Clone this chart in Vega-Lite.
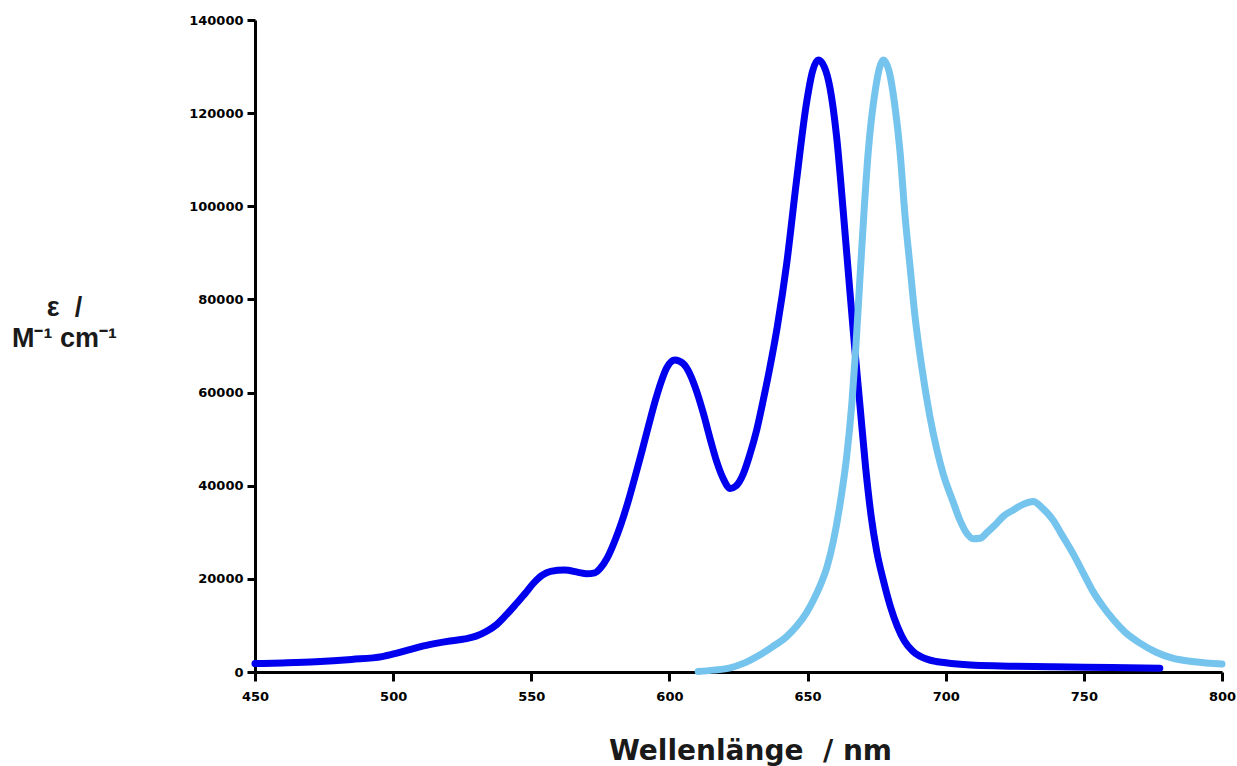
{
  "$schema": "https://vega.github.io/schema/vega-lite/v6.json",
  "autosize": "none",
  "width": 967,
  "height": 652,
  "padding": {"left": 255, "top": 20, "right": 15, "bottom": 94},
  "background": "white",
  "config": {"view": {"stroke": null}, "font": "Liberation Sans"},
  "data": {"values": [
    {"nm": 450, "eps": 1800, "s": "Absorption"},
    {"nm": 460, "eps": 1950, "s": "Absorption"},
    {"nm": 472, "eps": 2200, "s": "Absorption"},
    {"nm": 485, "eps": 2700, "s": "Absorption"},
    {"nm": 496, "eps": 3300, "s": "Absorption"},
    {"nm": 501, "eps": 4000, "s": "Absorption"},
    {"nm": 506, "eps": 4800, "s": "Absorption"},
    {"nm": 511, "eps": 5600, "s": "Absorption"},
    {"nm": 516, "eps": 6200, "s": "Absorption"},
    {"nm": 520.6, "eps": 6650, "s": "Absorption"},
    {"nm": 526, "eps": 7100, "s": "Absorption"},
    {"nm": 530, "eps": 7700, "s": "Absorption"},
    {"nm": 534, "eps": 8800, "s": "Absorption"},
    {"nm": 537.5, "eps": 10200, "s": "Absorption"},
    {"nm": 541, "eps": 12300, "s": "Absorption"},
    {"nm": 544.7, "eps": 14750, "s": "Absorption"},
    {"nm": 548, "eps": 17000, "s": "Absorption"},
    {"nm": 550.7, "eps": 19000, "s": "Absorption"},
    {"nm": 554, "eps": 20800, "s": "Absorption"},
    {"nm": 557, "eps": 21600, "s": "Absorption"},
    {"nm": 562, "eps": 21900, "s": "Absorption"},
    {"nm": 567, "eps": 21400, "s": "Absorption"},
    {"nm": 570, "eps": 21100, "s": "Absorption"},
    {"nm": 573, "eps": 21300, "s": "Absorption"},
    {"nm": 575, "eps": 22300, "s": "Absorption"},
    {"nm": 577.5, "eps": 24500, "s": "Absorption"},
    {"nm": 580, "eps": 27800, "s": "Absorption"},
    {"nm": 582.5, "eps": 31800, "s": "Absorption"},
    {"nm": 585, "eps": 36500, "s": "Absorption"},
    {"nm": 587.5, "eps": 41800, "s": "Absorption"},
    {"nm": 590, "eps": 47300, "s": "Absorption"},
    {"nm": 592.5, "eps": 53000, "s": "Absorption"},
    {"nm": 595, "eps": 58500, "s": "Absorption"},
    {"nm": 597, "eps": 62300, "s": "Absorption"},
    {"nm": 599, "eps": 65300, "s": "Absorption"},
    {"nm": 602, "eps": 67000, "s": "Absorption"},
    {"nm": 605, "eps": 66200, "s": "Absorption"},
    {"nm": 607.4, "eps": 64000, "s": "Absorption"},
    {"nm": 610, "eps": 60000, "s": "Absorption"},
    {"nm": 612.3, "eps": 55500, "s": "Absorption"},
    {"nm": 615, "eps": 49500, "s": "Absorption"},
    {"nm": 617.1, "eps": 45200, "s": "Absorption"},
    {"nm": 619.5, "eps": 41500, "s": "Absorption"},
    {"nm": 622, "eps": 39400, "s": "Absorption"},
    {"nm": 624, "eps": 39900, "s": "Absorption"},
    {"nm": 626.7, "eps": 42500, "s": "Absorption"},
    {"nm": 629, "eps": 46500, "s": "Absorption"},
    {"nm": 631.6, "eps": 52000, "s": "Absorption"},
    {"nm": 634, "eps": 58500, "s": "Absorption"},
    {"nm": 636.4, "eps": 65500, "s": "Absorption"},
    {"nm": 639, "eps": 74000, "s": "Absorption"},
    {"nm": 642.4, "eps": 87500, "s": "Absorption"},
    {"nm": 646, "eps": 105500, "s": "Absorption"},
    {"nm": 649.7, "eps": 122500, "s": "Absorption"},
    {"nm": 651.8, "eps": 129000, "s": "Absorption"},
    {"nm": 653.9, "eps": 131400, "s": "Absorption"},
    {"nm": 656, "eps": 130000, "s": "Absorption"},
    {"nm": 658.1, "eps": 125500, "s": "Absorption"},
    {"nm": 660.5, "eps": 115000, "s": "Absorption"},
    {"nm": 662.9, "eps": 99000, "s": "Absorption"},
    {"nm": 665, "eps": 84000, "s": "Absorption"},
    {"nm": 667, "eps": 70000, "s": "Absorption"},
    {"nm": 669, "eps": 57000, "s": "Absorption"},
    {"nm": 671, "eps": 44000, "s": "Absorption"},
    {"nm": 673, "eps": 33500, "s": "Absorption"},
    {"nm": 675, "eps": 26000, "s": "Absorption"},
    {"nm": 677.5, "eps": 19500, "s": "Absorption"},
    {"nm": 680, "eps": 14000, "s": "Absorption"},
    {"nm": 682.5, "eps": 9800, "s": "Absorption"},
    {"nm": 685, "eps": 6700, "s": "Absorption"},
    {"nm": 688, "eps": 4500, "s": "Absorption"},
    {"nm": 694, "eps": 2600, "s": "Absorption"},
    {"nm": 700, "eps": 2000, "s": "Absorption"},
    {"nm": 709, "eps": 1500, "s": "Absorption"},
    {"nm": 720, "eps": 1300, "s": "Absorption"},
    {"nm": 739, "eps": 1150, "s": "Absorption"},
    {"nm": 760, "eps": 950, "s": "Absorption"},
    {"nm": 777.5, "eps": 800, "s": "Absorption"},
    {"nm": 610.4, "eps": 100, "s": "Emission"},
    {"nm": 616, "eps": 400, "s": "Emission"},
    {"nm": 622, "eps": 900, "s": "Emission"},
    {"nm": 627, "eps": 1900, "s": "Emission"},
    {"nm": 632.8, "eps": 3700, "s": "Emission"},
    {"nm": 637, "eps": 5300, "s": "Emission"},
    {"nm": 642.4, "eps": 7600, "s": "Emission"},
    {"nm": 646, "eps": 9800, "s": "Emission"},
    {"nm": 649.7, "eps": 12800, "s": "Emission"},
    {"nm": 652, "eps": 15300, "s": "Emission"},
    {"nm": 654.5, "eps": 18500, "s": "Emission"},
    {"nm": 657, "eps": 22500, "s": "Emission"},
    {"nm": 659.3, "eps": 28000, "s": "Emission"},
    {"nm": 662, "eps": 37000, "s": "Emission"},
    {"nm": 664.2, "eps": 46500, "s": "Emission"},
    {"nm": 666, "eps": 57500, "s": "Emission"},
    {"nm": 667.5, "eps": 70000, "s": "Emission"},
    {"nm": 669, "eps": 85000, "s": "Emission"},
    {"nm": 670.5, "eps": 99500, "s": "Emission"},
    {"nm": 672, "eps": 112000, "s": "Emission"},
    {"nm": 674.4, "eps": 124500, "s": "Emission"},
    {"nm": 677.4, "eps": 131400, "s": "Emission"},
    {"nm": 679.5, "eps": 129000, "s": "Emission"},
    {"nm": 681.5, "eps": 122000, "s": "Emission"},
    {"nm": 683.4, "eps": 112100, "s": "Emission"},
    {"nm": 685.3, "eps": 97800, "s": "Emission"},
    {"nm": 687.1, "eps": 87000, "s": "Emission"},
    {"nm": 688.9, "eps": 76300, "s": "Emission"},
    {"nm": 691.3, "eps": 65600, "s": "Emission"},
    {"nm": 694.3, "eps": 54800, "s": "Emission"},
    {"nm": 696.7, "eps": 48000, "s": "Emission"},
    {"nm": 699.1, "eps": 42500, "s": "Emission"},
    {"nm": 702.7, "eps": 36500, "s": "Emission"},
    {"nm": 705, "eps": 32800, "s": "Emission"},
    {"nm": 707.6, "eps": 29800, "s": "Emission"},
    {"nm": 710, "eps": 28600, "s": "Emission"},
    {"nm": 712.4, "eps": 28700, "s": "Emission"},
    {"nm": 715, "eps": 30000, "s": "Emission"},
    {"nm": 718.4, "eps": 31900, "s": "Emission"},
    {"nm": 721, "eps": 33500, "s": "Emission"},
    {"nm": 724.5, "eps": 34800, "s": "Emission"},
    {"nm": 728, "eps": 36000, "s": "Emission"},
    {"nm": 731.7, "eps": 36600, "s": "Emission"},
    {"nm": 735, "eps": 35200, "s": "Emission"},
    {"nm": 738.9, "eps": 32600, "s": "Emission"},
    {"nm": 742, "eps": 29500, "s": "Emission"},
    {"nm": 746.2, "eps": 25300, "s": "Emission"},
    {"nm": 750, "eps": 21000, "s": "Emission"},
    {"nm": 753.4, "eps": 17200, "s": "Emission"},
    {"nm": 757, "eps": 14000, "s": "Emission"},
    {"nm": 760.7, "eps": 11200, "s": "Emission"},
    {"nm": 765, "eps": 8500, "s": "Emission"},
    {"nm": 770.3, "eps": 6200, "s": "Emission"},
    {"nm": 776, "eps": 4300, "s": "Emission"},
    {"nm": 782.4, "eps": 2900, "s": "Emission"},
    {"nm": 790, "eps": 2200, "s": "Emission"},
    {"nm": 800, "eps": 1700, "s": "Emission"}
  ]},
  "mark": {"type": "line", "strokeWidth": 7, "interpolate": "monotone", "strokeCap": "round", "strokeJoin": "round"},
  "encoding": {
    "x": {
      "field": "nm", "type": "quantitative",
      "scale": {"domain": [450, 800], "nice": false, "zero": false},
      "axis": {
        "values": [450, 500, 550, 600, 650, 700, 750, 800],
        "grid": false, "domainColor": "black", "domainWidth": 3,
        "tickColor": "black", "tickWidth": 3, "tickSize": 9,
        "labelFont": "DejaVu Sans", "labelFontWeight": "bold", "labelFontSize": 13, "labelColor": "black",
        "labelPadding": 9, "labelFlush": false,
        "title": "Wellenlänge\u00a0 / nm",
        "titleFont": "DejaVu Sans", "titleFontWeight": "bold", "titleFontSize": 28, "titleColor": "#1a1a1a",
        "titleX": 495, "titleY": 87, "titleAlign": "center", "titleBaseline": "alphabetic"
      }
    },
    "y": {
      "field": "eps", "type": "quantitative",
      "scale": {"domain": [0, 140000], "nice": false},
      "axis": {
        "values": [0, 20000, 40000, 60000, 80000, 100000, 120000, 140000],
        "format": "d",
        "grid": false, "domainColor": "black", "domainWidth": 3,
        "tickColor": "black", "tickWidth": 3, "tickSize": 8,
        "labelFont": "DejaVu Sans", "labelFontWeight": "bold", "labelFontSize": 13, "labelColor": "black",
        "labelPadding": 4,
        "title": ["ε\u00a0 /", "M⁻¹ cm⁻¹"],
        "titleFont": "Liberation Sans", "titleFontWeight": "bold", "titleFontSize": 27, "titleColor": "#1a1a1a",
        "titleAngle": 0, "titleX": -191, "titleY": 295, "titleAlign": "center", "titleBaseline": "alphabetic",
        "titleLineHeight": 31
      }
    },
    "color": {
      "field": "s", "type": "nominal",
      "scale": {"domain": ["Absorption", "Emission"], "range": ["#0000ee", "#74c4ee"]},
      "legend": null
    }
  }
}
